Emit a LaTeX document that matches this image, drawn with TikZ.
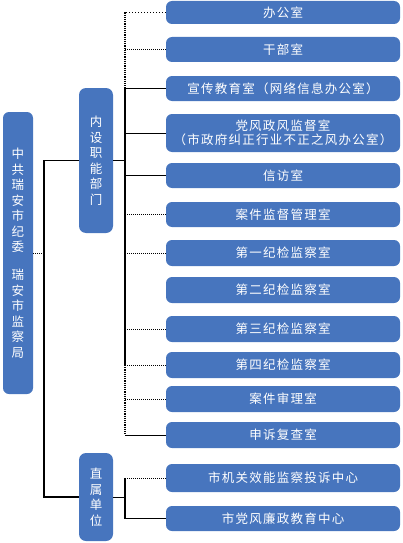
\documentclass[tikz,border=0pt]{standalone}
\usepackage{fontspec}
\newfontfamily\cjk[LetterSpace=10]{Noto Sans CJK SC}
\definecolor{boxblue}{RGB}{71,117,190}
\begin{document}
\begin{tikzpicture}[x=1pt,y={(0pt,-1pt)},
  rbox/.style={fill=boxblue, rounded corners=6pt, text=white, inner sep=0pt,
    minimum width=234pt, minimum height=25pt, align=center,
    font=\cjk\fontsize{12.5}{13.5}\selectfont},
  vbox/.style={fill=boxblue, rounded corners=7pt, text=white, inner sep=0pt,
    minimum width=34pt, align=center,
    font=\cjk\fontsize{12.5}{15.5}\selectfont},
  branch/.style={draw=black, line width=1pt},
  trunkline/.style={draw=black, line width=1.6pt},
  dotbranch/.style={draw=black, line width=1pt, densely dotted}]
\useasboundingbox (0,0) rectangle (402,543);

% right-hand boxes
\node[rbox, minimum height=23pt] (b1) at (283,12.5) {办公室};
\node[rbox] (b2) at (283,49.5) {干部室};
\node[rbox] (b3) at (283,88.5) {宣传教育室（网络信息办公室）};
\node[rbox, minimum height=38pt] (b4) at (283,133) {党风政风监督室\\（市政府纠正行业不正之风办公室）};
\node[rbox] (b5) at (283,175.5) {信访室};
\node[rbox] (b6) at (283,214.5) {案件监督管理室};
\node[rbox, minimum height=26pt] (b7) at (283,253) {第一纪检监察室};
\node[rbox, minimum height=26pt] (b8) at (283,290) {第二纪检监察室};
\node[rbox, minimum height=26pt] (b9) at (283,329) {第三纪检监察室};
\node[rbox, minimum height=26pt] (b10) at (283,365) {第四纪检监察室};
\node[rbox, minimum height=26pt] (b11) at (283,399) {案件审理室};
\node[rbox, minimum height=26pt] (b12) at (283,435) {申诉复查室};
\node[rbox, minimum height=28pt] (b13) at (283,478) {市机关效能监察投诉中心};
\node[rbox] (b14) at (283,518.5) {市党风廉政教育中心};

% middle boxes
\node[vbox, minimum height=145pt] (m1) at (96,160.5) {内\\设\\职\\能\\部\\门};
\node[vbox, minimum height=88pt] (m2) at (96,497) {直\\属\\单\\位};

% left box
\node[vbox, minimum width=30pt, minimum height=282pt, rounded corners=6pt] (org) at (18,253)
  {中\\共\\瑞\\安\\市\\纪\\委\\[12.5pt]瑞\\安\\市\\监\\察\\局};

% helper coordinates for the vertical lines
\coordinate (trunk) at (125,0);
\coordinate (spine) at (44,0);

% branches to the right-hand boxes
\draw[dotbranch, dotted] (b1.west) -- (b1.west -| trunk);
\draw[dotbranch] (b2.west) -- (b2.west -| trunk);
\draw[branch] (b3.west) -- (b3.west -| trunk);
\draw[branch] (b4.west) -- (b4.west -| trunk);
\draw[branch] (b5.west) -- (b5.west -| trunk);
\draw[dotbranch] (b6.west) -- (b6.west -| trunk);
\draw[dotbranch] (b7.west) -- (b7.west -| trunk);
\draw[dotbranch] (b9.west) -- (b9.west -| trunk);
\draw[dotbranch] (b10.west) -- (b10.west -| trunk);
\draw[dotbranch] (b11.west) -- (b11.west -| trunk);
\draw[branch] (b12.west) -- (b12.west -| trunk);

% main trunk
\draw[trunkline, line width=1.2pt, densely dotted] (b1.west -| trunk) -- (b3.west -| trunk);
\draw[trunkline] (b3.west -| trunk) -- (b10.west -| trunk);
\draw[trunkline, line width=1.2pt, densely dotted] (b10.west -| trunk) -- (b12.west -| trunk);
\draw[branch] (m1.east) -- (m1.east -| trunk);

% second group
\draw[trunkline, line width=1.2pt] (b13.west -| trunk) -- (b14.west -| trunk);
\draw[dotbranch] (b13.west) -- (b13.west -| trunk);
\draw[branch] (b14.west) -- (b14.west -| trunk);
\draw[branch] (m2.east) -- (m2.east -| trunk);

% left spine
\draw[branch, line width=1.2pt] (m1.west) -- (m1.west -| spine) -- (m2.west -| spine) -- (m2.west);
\draw[dotbranch] (org.east) -- (org.east -| spine);
\end{tikzpicture}
\end{document}
